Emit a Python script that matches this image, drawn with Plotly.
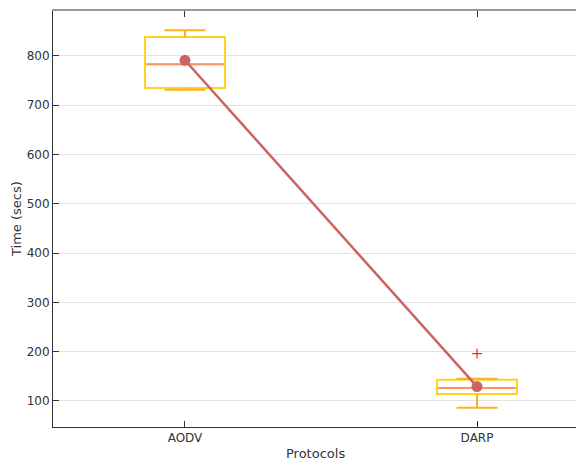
import plotly.graph_objects as go

protocols = ["AODV", "DARP"]
lower_whisker = [731, 86]
q1 = [735, 114]
median = [783, 126]
q3 = [838, 143]
upper_whisker = [852, 145]
means = [791, 129]
outlier_protocol = ["DARP"]
outlier_values = [196]

pos = list(range(len(protocols)))
box_w = 0.274
cap_w = 0.14
xr = [-0.452, 1.339]

fig = go.Figure()

for i, p in enumerate(protocols):
    fig.add_trace(go.Box(
        x=[pos[i]], q1=[q1[i]], median=[median[i]], q3=[q3[i]],
        lowerfence=[q1[i]], upperfence=[q3[i]],
        width=box_w, whiskerwidth=0, fillcolor="rgba(0,0,0,0)",
        line=dict(color="#FFD21F", width=2), showlegend=False,
        hoverinfo="skip", boxpoints=False))
    wx, wy = [], []
    for lo, hi in ((lower_whisker[i], q1[i]), (q3[i], upper_whisker[i])):
        wx += [pos[i], pos[i], None]
        wy += [lo, hi, None]
    for v in (lower_whisker[i], upper_whisker[i]):
        wx += [pos[i] - cap_w / 2, pos[i] + cap_w / 2, None]
        wy += [v, v, None]
    fig.add_trace(go.Scatter(x=wx, y=wy, mode="lines",
                             line=dict(color="#FFB020", width=2),
                             showlegend=False, hoverinfo="skip"))
    fig.add_trace(go.Scatter(x=[pos[i] - box_w / 2 + 0.005, pos[i] + box_w / 2 - 0.005],
                             y=[median[i], median[i]], mode="lines",
                             line=dict(color="#FF9166", width=2),
                             showlegend=False, hoverinfo="skip"))

fig.add_trace(go.Scatter(
    x=[protocols.index(p) for p in outlier_protocol], y=outlier_values,
    mode="markers", marker=dict(symbol="cross-thin", size=7,
                                line=dict(color="#FF2020", width=1.2)),
    showlegend=False))

fig.add_trace(go.Scatter(x=pos, y=means, mode="lines+markers",
                         line=dict(color="#CD6363", width=2.5),
                         marker=dict(color="#CD6363", size=11),
                         showlegend=False))

# invisible trace to anchor the top axis
fig.add_trace(go.Scatter(x=pos, y=means, xaxis="x2", mode="markers",
                         marker=dict(opacity=0), showlegend=False, hoverinfo="skip"))

font = dict(family="DejaVu Sans", size=12, color="#333333")
fig.update_layout(
    width=576, height=460,
    margin=dict(l=53, r=0, t=11, b=33),
    paper_bgcolor="white", plot_bgcolor="white",
    font=font,
    xaxis=dict(range=xr, tickvals=pos, ticktext=protocols,
               showgrid=False, zeroline=False, ticks="inside", ticklen=6,
               tickcolor="#333", showline=True, linecolor="#333", linewidth=1,
               automargin=False),
    xaxis2=dict(range=xr, tickvals=pos, showticklabels=False, overlaying="x",
                side="top", showgrid=False, zeroline=False, ticks="inside",
                ticklen=6, tickcolor="#333", showline=True, linecolor="#999999",
                linewidth=1.5, automargin=False),
    yaxis=dict(range=[47, 891], tickvals=[100, 200, 300, 400, 500, 600, 700, 800],
               showgrid=True, gridcolor="#E3E3E3", gridwidth=1, zeroline=False,
               ticks="inside", ticklen=6, tickcolor="#333",
               showline=True, linecolor="#333", linewidth=1, automargin=False),
    annotations=[
        dict(text="Protocols", xref="paper", yref="paper", x=(315 - 53) / 523,
             y=0, yshift=-26, xanchor="center", yanchor="middle", showarrow=False,
             font=dict(size=13, color="#333333")),
        dict(text="Time (secs)", xref="paper", yref="paper", x=0, xshift=-37,
             y=0.5, textangle=-90, xanchor="center", yanchor="middle",
             showarrow=False, font=dict(size=13, color="#333333")),
    ],
)

fig.write_html("out.html", config={"displayModeBar": False},
               post_script="document.body.style.margin='0px';document.body.style.overflow='hidden';")
